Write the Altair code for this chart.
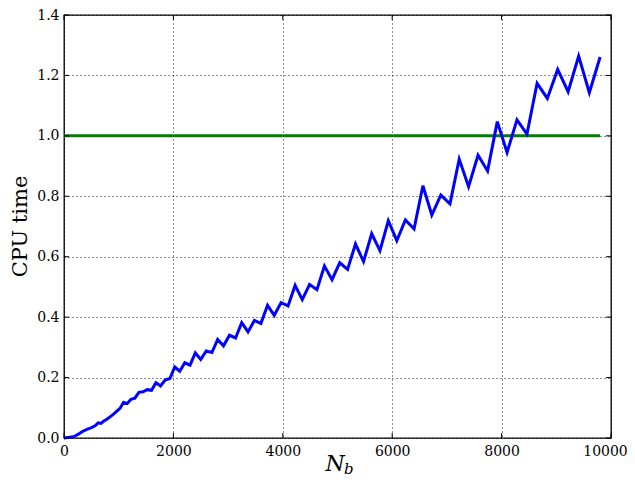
import altair as alt
import pandas as pd

# N_b values (positions of the polyline vertices)
nb = [1, 4, 9, 16, 25, 36, 49, 64, 81, 100,
      121, 144, 169, 196, 225, 256, 289, 324, 361, 400,
      441, 484, 529, 576, 625, 676, 729, 784, 841, 900,
      961, 1024, 1089, 1156, 1225, 1296, 1369, 1444, 1521, 1600,
      1681, 1764, 1849, 1936, 2025, 2116, 2209, 2304, 2401, 2500,
      2601, 2704, 2809, 2916, 3025, 3136, 3249, 3364, 3481, 3600,
      3721, 3844, 3969, 4096, 4225, 4356, 4489, 4624, 4761, 4900,
      5041, 5184, 5329, 5476, 5625, 5776, 5929, 6084, 6241, 6400,
      6561, 6724, 6889, 7056, 7225, 7396, 7569, 7744, 7921, 8100,
      8281, 8464, 8649, 8836, 9025, 9216, 9409, 9604, 9801]

cpu = [0.000, 0.000, 0.000, 0.000, 0.001, 0.001, 0.001, 0.002, 0.002, 0.002,
       0.003, 0.003, 0.004, 0.006, 0.009, 0.012, 0.016, 0.020, 0.024, 0.027,
       0.030, 0.033, 0.037, 0.041, 0.050, 0.048, 0.056, 0.062, 0.070, 0.078,
       0.088, 0.098, 0.118, 0.114, 0.128, 0.132, 0.151, 0.153, 0.160, 0.158,
       0.183, 0.172, 0.192, 0.197, 0.235, 0.221, 0.249, 0.241, 0.282, 0.260,
       0.288, 0.283, 0.326, 0.305, 0.340, 0.331, 0.382, 0.351, 0.389, 0.379,
       0.439, 0.406, 0.448, 0.437, 0.505, 0.458, 0.508, 0.491, 0.569, 0.524,
       0.580, 0.558, 0.642, 0.584, 0.676, 0.620, 0.719, 0.653, 0.722, 0.692,
       0.835, 0.738, 0.804, 0.775, 0.923, 0.832, 0.936, 0.884, 1.047, 0.945,
       1.053, 1.006, 1.174, 1.124, 1.220, 1.146, 1.264, 1.143, 1.261]

ref_x = [1, 9801]
ref_y = [1.0, 1.0]

x_ticks = [0, 2000, 4000, 6000, 8000, 10000]
y_ticks = [0.0, 0.2, 0.4, 0.6, 0.8, 1.0, 1.2, 1.4]

W, H = 547, 423
FONT = "DejaVu Serif"

df = pd.DataFrame({"nb": nb, "cpu": cpu})
df_ref = pd.DataFrame({"nb": ref_x, "cpu": ref_y})
df_xt = pd.DataFrame({"v": x_ticks})
df_yt = pd.DataFrame({"v": y_ticks})

xscale = alt.Scale(domain=[0, 10000], nice=False, zero=False)
yscale = alt.Scale(domain=[0, 1.4], nice=False, zero=False)

xaxis = alt.Axis(values=x_ticks, format="d", grid=True, ticks=False, domain=False,
                 labelFont=FONT, labelFontSize=14, labelColor="black", labelPadding=6,
                 labelFlush=False, labelOverlap=False, labelBound=False,
                 labelOffset=alt.expr("datum.value == 10000 ? -6 : 0"),
                 title=None)
yaxis = alt.Axis(values=y_ticks, format=".1f", grid=True, ticks=False, domain=False,
                 labelFont=FONT, labelFontSize=14, labelColor="black", labelPadding=5,
                 labelFlush=False, labelOverlap=False, labelBound=False,
                 title="CPU time", titleFont=FONT, titleFontSize=21, titleFontWeight="normal",
                 titleColor="black", titleAngle=270, titleX=-44, titleY=211,
                 titleAlign="center", titleBaseline="middle")

blue = alt.Chart(df).mark_line(color="#0000ff", strokeWidth=3).encode(
    x=alt.X("nb:Q", scale=xscale, axis=xaxis),
    y=alt.Y("cpu:Q", scale=yscale, axis=yaxis),
)

green = alt.Chart(df_ref).mark_line(color="#008000", strokeWidth=3).encode(
    x=alt.X("nb:Q", scale=xscale),
    y=alt.Y("cpu:Q", scale=yscale),
)

TL = 5
tick_bottom = alt.Chart(df_xt).mark_rule(color="black", strokeWidth=1).encode(
    x=alt.X("v:Q", scale=xscale), y=alt.value(H), y2=alt.value(H - TL))
tick_top = alt.Chart(df_xt).mark_rule(color="black", strokeWidth=1).encode(
    x=alt.X("v:Q", scale=xscale), y=alt.value(0), y2=alt.value(TL))
tick_left = alt.Chart(df_yt).mark_rule(color="black", strokeWidth=1).encode(
    y=alt.Y("v:Q", scale=yscale), x=alt.value(0), x2=alt.value(TL))
tick_right = alt.Chart(df_yt).mark_rule(color="black", strokeWidth=1).encode(
    y=alt.Y("v:Q", scale=yscale), x=alt.value(W), x2=alt.value(W - TL))

title_n = alt.Chart(pd.DataFrame({"t": ["N"]})).mark_text(
    font=FONT, fontSize=22, fontStyle="italic", align="center", baseline="alphabetic",
    color="black").encode(text="t:N", x=alt.value(271), y=alt.value(456))
title_b = alt.Chart(pd.DataFrame({"t": ["b"]})).mark_text(
    font=FONT, fontSize=15, fontStyle="italic", align="left", baseline="alphabetic",
    color="black").encode(text="t:N", x=alt.value(280), y=alt.value(459))

chart = alt.layer(
    green, blue, tick_bottom, tick_top, tick_left, tick_right, title_n, title_b
).properties(
    width=W, height=H,
    autosize=alt.AutoSizeParams(type="none"),
    padding={"left": 56, "top": 7, "right": 16, "bottom": 39},
).configure_view(
    stroke="black", strokeWidth=1.3
).configure_axis(
    gridColor="black", gridDash=[1, 3], gridWidth=1, gridOpacity=0.9
)

chart.save("out.html", embed_options={"renderer": "svg", "actions": False})
